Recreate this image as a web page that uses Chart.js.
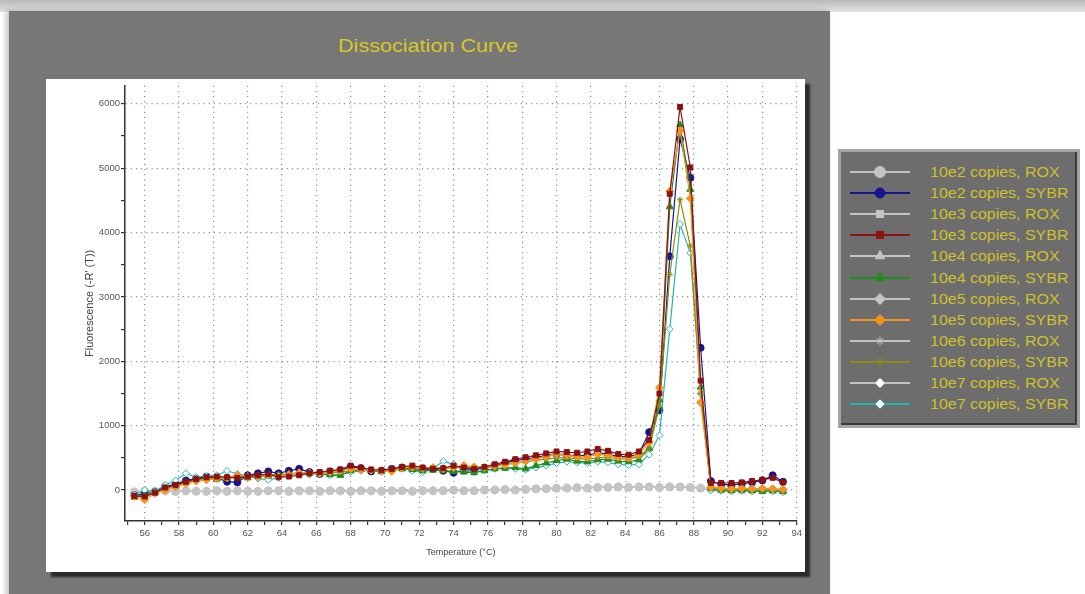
<!DOCTYPE html>
<html>
<head>
<meta charset="utf-8">
<script src="https://cdn.jsdelivr.net/npm/chart.js@4.4.0/dist/chart.umd.min.js"></script>
<style>
  body { margin: 0; width: 1085px; height: 594px; background: #fff; position: relative; overflow: hidden;
         font-family: "Liberation Sans", Arial, sans-serif; }
  #topShade { position: absolute; left: 0; top: 0; width: 1085px; height: 12px; background: linear-gradient(#b8b8b8, #e4e4e4); }
  #panel { position: absolute; left: 9px; top: 11px; width: 821px; height: 600px; background: #777775;
           box-shadow: -3px 0 6px rgba(0,0,0,0.25); }
  #title { position: absolute; left: 0; top: 36px; width: 856px; text-align: center; line-height: 20px;
           color: #d6c82a; font-size: 18px; }
  #title span { display: inline-block; transform: scaleX(1.2); }
  #plotBox { position: absolute; left: 46px; top: 79px; width: 759px; height: 493px; background: #fff;
             box-shadow: 5px 5px 2px #2a2a2a; }
  #legend { position: absolute; left: 838px; top: 149px; width: 236px; height: 273px; background: #6d6d6d;
            border: 3px solid #a4a4a4; box-shadow: inset -2px -2px 0 #3a3a3a; }
  .row { position: absolute; left: 0; height: 20px; width: 236px; }
  .row canvas { position: absolute; left: 7px; top: 2px; }
  .row span { position: absolute; left: 89px; top: 1px; line-height: 18px; font-size: 14px; color: #cfc12c;
              transform: scaleX(1.14); transform-origin: left center; white-space: nowrap; }
</style>
</head>
<body>
<div id="topShade"></div>
<div id="panel"></div>
<div id="title"><span>Dissociation Curve</span></div>
<div id="plotBox"><canvas id="chart" width="759" height="493"></canvas></div>
<div id="legend"></div>
<script>
const temps = [55.4, 56.0, 56.6, 57.2, 57.8, 58.4, 59.0, 59.6, 60.2, 60.8,
  61.4, 62.0, 62.6, 63.2, 63.8, 64.4, 65.0, 65.6, 66.2, 66.8,
  67.4, 68.0, 68.6, 69.2, 69.8, 70.4, 71.0, 71.6, 72.2, 72.8,
  73.4, 74.0, 74.6, 75.2, 75.8, 76.4, 77.0, 77.6, 78.2, 78.8,
  79.4, 80.0, 80.6, 81.2, 81.8, 82.4, 83.0, 83.6, 84.2, 84.8,
  85.4, 86.0, 86.6, 87.2, 87.8, 88.4, 89.0, 89.6, 90.2, 90.8,
  91.4, 92.0, 92.6, 93.2]

const xTickValues = [55, 56, 57, 58, 59, 60, 61, 62, 63, 64, 65, 66, 67, 68, 69, 70, 71, 72, 73, 74,
  75, 76, 77, 78, 79, 80, 81, 82, 83, 84, 85, 86, 87, 88, 89, 90, 91, 92, 93, 94]
const yTickValues = [0, 500, 1000, 1500, 2000, 2500, 3000, 3500, 4000, 4500, 5000, 5500, 6000]

const seriesNames = ['10e2 copies, ROX', '10e2 copies, SYBR', '10e3 copies, ROX', '10e3 copies, SYBR',
  '10e4 copies, ROX', '10e4 copies, SYBR', '10e5 copies, ROX', '10e5 copies, SYBR',
  '10e6 copies, ROX', '10e6 copies, SYBR', '10e7 copies, ROX', '10e7 copies, SYBR']

const rox2 = [-30, -20, -20, -10, -20, -10, -20, -20, -10, -20,
  -10, -20, -20, -10, -10, -20, -10, -10, -20, -10,
  -10, -20, -10, -10, -20, -10, -10, -20, -10, -10,
  -10, 0, -10, -10, 0, 0, 10, 0, 10, 20,
  20, 30, 30, 40, 30, 40, 40, 50, 40, 50,
  50, 40, 50, 50, 40, 30, 20, 10, 10, 0,
  10, 0, 0, -10]
const sybr2 = [-80, -60, -30, 60, 90, 150, 180, 210, 190, 130,
  120, 230, 260, 290, 260, 300, 330, 280, 250, 290,
  310, 360, 340, 290, 300, 330, 350, 320, 310, 330,
  300, 270, 310, 320, 340, 380, 420, 460, 480, 510,
  530, 560, 540, 530, 540, 580, 560, 520, 520, 560,
  900, 1240, 3630, 5450, 4850, 2210, 140, 90, 80, 100,
  120, 150, 230, 130]
const rox3 = [-40, -30, -20, -20, -10, -20, -10, -10, -20, -10,
  -20, -10, -10, -20, -10, -10, -20, -10, -10, -20,
  -10, -10, -20, -10, -10, -10, -20, -10, -10, -10,
  0, -10, 0, 0, -10, 10, 0, 10, 20, 10,
  30, 30, 40, 30, 40, 50, 40, 40, 50, 50,
  40, 50, 50, 40, 50, 30, 10, 10, 0, 10,
  0, 0, -10, -10]
const sybr3 = [-90, -100, -40, 40, 80, 130, 170, 200, 210, 200,
  190, 210, 230, 250, 200, 210, 230, 260, 280, 300,
  320, 380, 350, 320, 310, 330, 360, 380, 350, 330,
  340, 380, 350, 330, 360, 400, 440, 480, 510, 540,
  570, 600, 590, 580, 600, 640, 610, 560, 550, 600,
  780, 1500, 4600, 5950, 5010, 1700, 110, 110, 110, 120,
  140, 160, 190, 120]
const rox4 = [-20, -30, -10, -20, -20, -10, -20, -10, -10, -20,
  -10, -10, -20, -10, -20, -10, -10, -10, -20, -10,
  -20, -10, -10, -10, -10, -20, -10, -10, -10, 0,
  -10, -10, 0, -10, 0, 0, 10, 10, 10, 20,
  30, 20, 30, 40, 40, 40, 50, 40, 50, 40,
  50, 50, 40, 50, 40, 40, 20, 0, 10, 0,
  0, 10, -10, 0]
const sybr4 = [-110, -90, -40, 30, 60, 120, 170, 180, 170, 180,
  200, 190, 210, 220, 230, 250, 260, 270, 250, 240,
  230, 300, 320, 300, 290, 320, 330, 320, 300, 310,
  300, 290, 280, 270, 300, 330, 340, 350, 330, 380,
  420, 460, 480, 450, 440, 470, 480, 450, 440, 470,
  650, 1400, 4400, 5670, 4670, 1600, 30, 0, -10, 0,
  -10, -20, -10, -20]
const rox5 = [-30, -20, -30, -20, -10, -20, -10, -20, -20, -10,
  -20, -10, -10, -10, -20, -10, -20, -10, -10, -10,
  -20, -10, -10, -20, -10, -10, -10, -10, -20, -10,
  0, -10, -10, 0, 0, 10, 0, 10, 20, 20,
  20, 30, 40, 30, 40, 40, 40, 50, 50, 40,
  50, 40, 50, 40, 50, 40, 10, 10, 0, 10,
  0, 0, 0, -10]
const sybr5 = [-100, -150, -50, 0, 50, 100, 140, 160, 180, 190,
  230, 200, 210, 230, 210, 240, 270, 260, 260, 280,
  300, 330, 320, 310, 300, 290, 350, 360, 340, 350,
  330, 350, 380, 360, 350, 370, 390, 420, 450, 490,
  520, 560, 540, 520, 510, 560, 540, 510, 500, 550,
  740, 1590, 4640, 5580, 4530, 1360, 50, 30, 20, 30,
  20, 30, 20, 10]
const rox6 = [-20, -20, -10, -20, -10, -20, -20, -10, -10, -10,
  -20, -20, -10, -10, -10, -20, -10, -20, -10, -10,
  -10, -20, -10, -10, -10, -10, -20, -10, -10, -10,
  -10, 0, 0, -10, 0, 10, 10, 0, 10, 20,
  30, 30, 30, 40, 40, 50, 40, 50, 40, 50,
  40, 50, 50, 50, 40, 30, 20, 10, 0, 0,
  10, 0, -10, 0]
const sybr6 = [-90, -80, -30, 20, 70, 110, 150, 170, 190, 200,
  210, 220, 230, 240, 240, 250, 260, 270, 280, 270,
  280, 300, 310, 300, 300, 310, 320, 330, 330, 340,
  340, 350, 350, 360, 360, 380, 400, 420, 440, 460,
  480, 500, 500, 490, 480, 500, 510, 490, 480, 520,
  650, 1300, 3350, 4510, 3790, 1500, 20, 10, 0, 10,
  0, 0, 10, 0]
const rox7 = [-30, -30, -20, -10, -20, -20, -10, -10, -20, -20,
  -10, -10, -20, -20, -10, -10, -10, -20, -10, -20,
  -10, -10, -10, -20, -10, -10, -10, -20, -10, -10,
  -10, -10, 0, 0, 0, 0, 10, 10, 20, 10,
  20, 30, 30, 30, 40, 40, 50, 40, 40, 50,
  50, 50, 40, 40, 50, 30, 10, 0, 10, 0,
  0, -10, 0, -10]
const sybr7 = [-70, 0, -20, 80, 150, 260, 200, 220, 230, 300,
  250, 220, 180, 160, 190, 240, 270, 240, 260, 230,
  240, 280, 300, 310, 290, 330, 340, 300, 280, 330,
  450, 400, 300, 280, 310, 330, 350, 330, 320, 350,
  380, 420, 440, 430, 420, 440, 430, 400, 390, 400,
  550, 850, 2500, 4130, 3680, 1500, 0, -10, -20, -10,
  -20, -10, -20, -30]

const seriesValues = [rox2, sybr2, rox3, sybr3, rox4, sybr4, rox5, sybr5, rox6, sybr6, rox7, sybr7]

// styling per series
const roxGray = '#c4c4c4'
const lineColors = [roxGray, '#16168c', roxGray, '#8c1212', roxGray, '#1e8c1e', roxGray, '#f6921e',
  roxGray, '#8c8c14', roxGray, '#2ab2b2']
const fillColors = [roxGray, '#16168c', roxGray, '#8c1212', roxGray, '#1e8c1e', roxGray, '#f6921e',
  roxGray, '#8c8c14', '#ffffff', '#ffffff']
const markerStyles = ['circle', 'circle', 'rect', 'rect', 'triangle', 'triangle', 'rectRot', 'rectRot',
  'star', 'star', 'rectRot', 'rectRot']
const markerSizes = [4, 3.5, 3.5, 3.5, 4, 4, 4, 4, 3, 3, 3.5, 3.5]
// lower order is drawn on top: SYBR curves over the flat ROX ones
const drawOrder = [10, 6, 10, 1, 10, 4, 10, 2, 10, 3, 10, 5]

const fontFamily = '"Liberation Sans", Arial, sans-serif'

const datasets = seriesNames.map((name, i) => ({
  label: name,
  data: temps.map((t, k) => ({ x: t, y: seriesValues[i][k] })),
  order: drawOrder[i],
  borderColor: lineColors[i],
  backgroundColor: fillColors[i],
  pointBackgroundColor: fillColors[i],
  pointBorderColor: lineColors[i],
  pointStyle: markerStyles[i],
  pointRadius: markerSizes[i],
  pointBorderWidth: 1,
  borderWidth: 1.2,
  tension: 0,
}))

new Chart(document.getElementById('chart').getContext('2d'), {
  type: 'line',
  data: { datasets },
  options: {
    responsive: false,
    animation: false,
    devicePixelRatio: 1,
    layout: { padding: { top: 6, right: 7, left: 0, bottom: 0 } },
    plugins: { legend: { display: false }, tooltip: { enabled: false } },
    scales: {
      x: {
        type: 'linear', min: 54.85, max: 94,
        afterBuildTicks: s => { s.ticks = xTickValues.map(v => ({ value: v })) },
        afterFit: s => { s.height = 51 },
        ticks: {
          autoSkip: false, maxRotation: 0, padding: 3, color: '#555',
          font: { size: 9.5, family: fontFamily },
          callback: v => v % 2 === 0 ? String(v) : '',
        },
        grid: {
          color: c => (c.tick && c.tick.value % 2 === 0) ? '#8e8e8e' : 'rgba(0,0,0,0)',
          lineWidth: 1.2, tickColor: '#333', tickLength: 4,
        },
        border: { color: '#333', width: 1.5, dash: [1.2, 4] },
        title: {
          display: true, text: 'Temperature (°C)', color: '#444',
          font: { size: 9, family: fontFamily }, padding: { top: 0, bottom: 14 },
        },
      },
      y: {
        type: 'linear', min: -480, max: 6280,
        afterBuildTicks: s => { s.ticks = yTickValues.map(v => ({ value: v })) },
        afterFit: s => { s.width = 79 },
        ticks: {
          autoSkip: false, padding: 1, color: '#555',
          font: { size: 9.5, family: fontFamily },
          callback: v => v % 1000 === 0 ? String(v) : '',
        },
        grid: {
          color: c => (c.tick && c.tick.value % 1000 === 0) ? '#8e8e8e' : 'rgba(0,0,0,0)',
          lineWidth: 1.2, tickColor: '#333', tickLength: 4,
        },
        border: { color: '#333', width: 1.5, dash: [1.2, 4] },
        title: {
          display: true, text: "Fluorescence (-R' (T))", color: '#444',
          font: { size: 11, family: fontFamily }, padding: { top: 37, bottom: 0 },
        },
      },
    },
  },
})

// legend on the right, built from the same series lists
const legend = document.getElementById('legend')
seriesNames.forEach((name, i) => {
  const row = document.createElement('div')
  row.className = 'row'
  row.style.top = (10 + i * 21.1) + 'px'
  const c = document.createElement('canvas')
  c.width = 64; c.height = 16
  const ctx = c.getContext('2d')
  ctx.strokeStyle = lineColors[i]
  ctx.lineWidth = 2
  ctx.beginPath(); ctx.moveTo(2, 8); ctx.lineTo(62, 8); ctx.stroke()
  ctx.fillStyle = fillColors[i]
  ctx.strokeStyle = lineColors[i]
  ctx.lineWidth = 1
  Chart.helpers.drawPoint(ctx, { pointStyle: markerStyles[i], radius: markerSizes[i] + 1.5, rotation: 0, borderWidth: 1 }, 32, 8)
  const label = document.createElement('span')
  label.textContent = name
  row.appendChild(c)
  row.appendChild(label)
  legend.appendChild(row)
})
</script>
</body>
</html>
